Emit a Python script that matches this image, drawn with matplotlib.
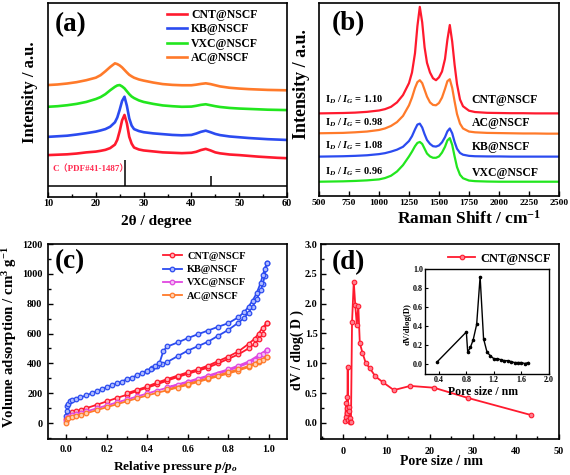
import matplotlib
matplotlib.use("Agg")
import matplotlib.pyplot as plt
import numpy as np
from matplotlib.ticker import MultipleLocator

plt.rcParams['font.family'] = ['Liberation Serif', 'Noto Sans CJK SC']
plt.rcParams['font.weight'] = 'bold'
plt.rcParams['axes.labelweight'] = 'bold'
plt.rcParams['mathtext.fontset'] = 'custom'
plt.rcParams['mathtext.rm'] = 'Liberation Serif:bold'
plt.rcParams['mathtext.it'] = 'Liberation Serif:italic:bold'
plt.rcParams['mathtext.bf'] = 'Liberation Serif:bold'
plt.rcParams['axes.linewidth'] = 1.2

# ---------------- (a) XRD ----------------
xrd_x = [10, 12, 14, 16, 18, 20, 21, 22, 23, 24, 24.5, 25, 25.5, 26, 26.5, 27, 27.5, 28, 29, 30,
         32, 34, 36, 38, 40, 41, 42, 43, 44, 45, 46, 48, 50, 52, 54, 56, 58, 60]
xrd_cnt = [21.6, 21.8, 22.0, 22.4, 23.0, 23.4, 23.8, 24.3, 25.2, 27.0, 29.5, 34.0, 39.5, 42.3, 38.0, 31.0,
           27.5, 25.5, 24.5, 24.0, 23.5, 23.0, 22.8, 22.6, 22.8, 23.3, 24.2, 24.8, 24.0, 23.0, 22.5, 21.9,
           21.6, 21.2, 20.8, 20.5, 20.2, 20.0]
xrd_kb = [31.0, 31.3, 31.6, 32.2, 32.9, 33.7, 34.3, 35.0, 36.2, 38.5, 41.0, 45.0, 49.5, 51.7, 47.0, 40.5,
          36.8, 35.0, 34.0, 33.4, 32.8, 32.4, 32.0, 31.8, 32.0, 32.7, 33.6, 34.2, 33.4, 32.5, 31.9, 31.2,
          30.8, 30.4, 30.1, 29.8, 29.6, 29.4]
xrd_vxc = [46.5, 46.8, 47.3, 48.0, 49.0, 50.5, 51.5, 53.0, 55.0, 56.8, 57.5, 57.7, 57.0, 56.0, 54.5, 53.0,
           51.8, 51.0, 49.8, 49.0, 48.0, 47.2, 46.8, 46.5, 46.6, 47.0, 47.5, 47.8, 47.3, 46.8, 46.4, 45.9,
           45.6, 45.4, 45.2, 45.0, 44.9, 44.8]
xrd_ac = [57.7, 58.0, 58.5, 59.2, 60.2, 61.5, 62.8, 64.8, 67.0, 68.9, 68.5, 67.8, 66.8, 65.5, 64.2, 63.0,
          62.2, 61.5, 60.6, 60.0, 59.0, 58.2, 57.8, 57.6, 57.6, 57.9, 58.3, 58.6, 58.2, 57.6, 57.0, 56.3,
          55.9, 55.6, 55.4, 55.2, 55.1, 55.0]
pdf_pos = [26.2, 44.2]
pdf_height = [13.4, 5.1]
xrd_labels = ['CNT@NSCF', 'KB@NSCF', 'VXC@NSCF', 'AC@NSCF']

# ---------------- (b) Raman ----------------
ram_x = [500, 600, 700, 800, 900, 1000, 1050, 1100, 1150, 1200, 1250, 1275, 1300, 1320, 1340, 1360, 1380,
         1400, 1425, 1450, 1475, 1500, 1525, 1550, 1570, 1590, 1610, 1630, 1650, 1675, 1700, 1750, 1800,
         1900, 2000, 2100, 2200, 2300, 2400, 2500]
ram_cnt = [42.8, 42.9, 43.0, 43.2, 43.6, 44.3, 45.0, 46.2, 48.5, 52.3, 58.5, 64, 74, 88, 98, 90, 77, 69, 64,
           61, 60, 61.5, 64.5, 71, 81, 88.6, 80, 68, 58, 50, 46.5, 44.2, 43.5, 43.1, 43.0, 42.9, 42.9, 42.8,
           42.8, 42.8]
ram_ac = [32.5, 32.6, 32.7, 33.0, 33.4, 34.2, 35.0, 36.3, 38.3, 41.5, 47, 51, 56, 59, 60, 58.5, 55, 51.5,
          48.5, 47.2, 47, 48.2, 51, 55.5, 59.5, 60.5, 56, 49, 42.5, 37.5, 35, 33.4, 33, 32.7, 32.6, 32.5,
          32.4, 32.4, 32.3, 32.3]
ram_kb = [20.4, 20.5, 20.6, 20.8, 21.1, 21.7, 22.2, 23.0, 24.0, 25.5, 28.5, 31, 34.5, 37, 37.5, 35.5, 32,
          29, 27, 25.8, 25.6, 26.2, 27.8, 30.5, 33.5, 35, 32.5, 28, 24.5, 22.3, 21.4, 20.8, 20.6, 20.5,
          20.5, 20.4, 20.4, 20.4, 20.4, 20.4]
ram_vxc = [7.4, 7.5, 7.6, 7.8, 8.1, 8.6, 9.3, 10.5, 12.7, 16, 20.5, 23, 25.8, 27.5, 28, 27, 24.5, 22, 20.5,
           19.8, 19.8, 20.5, 22.5, 25.5, 28.8, 30, 26.5, 20.5, 15, 11, 9.2, 8, 7.7, 7.5, 7.4, 7.4, 7.4, 7.4,
           7.4, 7.4]
ram_names = ['CNT@NSCF', 'AC@NSCF', 'KB@NSCF', 'VXC@NSCF']
ram_ratio = ['1.10', '0.98', '1.08', '0.96']

# ---------------- (c) N2 isotherms ----------------
kb_p_ads = [0.0, 0.002, 0.005, 0.01, 0.02, 0.03, 0.05, 0.07, 0.1, 0.125, 0.15, 0.175, 0.2, 0.225, 0.25, 0.275,
            0.3, 0.325, 0.35, 0.375, 0.4, 0.425, 0.45, 0.475, 0.5, 0.55, 0.6, 0.65, 0.7, 0.75, 0.8, 0.85,
            0.88, 0.9, 0.92, 0.94, 0.96, 0.97, 0.98, 0.99]
kb_v_ads = [45, 80, 115, 130, 145, 153, 163, 172, 185, 200, 212, 225, 240, 252, 265, 278, 295, 305, 320, 335,
            350, 368, 385, 395, 410, 448, 485, 515, 545, 585, 624, 673, 705, 740, 780, 830, 890, 930, 985, 1070]
kb_p_des = [0.99, 0.98, 0.97, 0.96, 0.94, 0.92, 0.9, 0.88, 0.85, 0.8, 0.75, 0.7, 0.65, 0.6, 0.55, 0.5, 0.48,
            0.46, 0.44, 0.42, 0.4]
kb_v_des = [1070, 1035, 990, 940, 870, 820, 780, 745, 709, 669, 645, 620, 595, 569, 540, 513, 485, 400, 380,
            365, 350]

p_ads = [0.0, 0.005, 0.01, 0.03, 0.05, 0.075, 0.1, 0.15, 0.2, 0.25, 0.3, 0.35, 0.4, 0.45, 0.5, 0.55, 0.6,
         0.65, 0.7, 0.75, 0.8, 0.85, 0.9, 0.93, 0.95, 0.97, 0.99]
cnt_v_ads = [30, 55, 62, 72, 80, 90, 100, 122, 145, 168, 190, 215, 237, 260, 285, 308, 330, 350, 372, 400,
             430, 460, 500, 530, 560, 600, 670]
cnt_p_des = [0.99, 0.97, 0.95, 0.93, 0.9, 0.85, 0.8, 0.75, 0.7, 0.65, 0.6, 0.55, 0.5, 0.45, 0.4, 0.35, 0.3]
cnt_v_des = [670, 640, 600, 565, 530, 480, 445, 415, 385, 360, 340, 318, 295, 272, 245, 222, 200]

vxc_v_ads = [15, 35, 42, 52, 60, 68, 78, 98, 118, 138, 158, 178, 198, 218, 237, 255, 272, 292, 312, 332, 352,
             375, 402, 425, 442, 462, 490]
vxc_p_des = [0.99, 0.95, 0.9, 0.85, 0.8, 0.7, 0.6, 0.5]
vxc_v_des = [490, 455, 412, 385, 360, 318, 278, 240]

ac_v_ads = [0, 25, 32, 40, 47, 56, 66, 86, 106, 126, 146, 166, 185, 203, 220, 238, 256, 275, 295, 313, 332,
            352, 375, 393, 408, 425, 445]
ac_p_des = [0.99, 0.95, 0.9, 0.85, 0.8, 0.7, 0.6, 0.5]
ac_v_des = [445, 415, 382, 360, 340, 300, 262, 225]

# ---------------- (d) pore size distribution ----------------
psd_x = [0.4, 0.6, 0.7, 0.8, 0.85, 0.9, 1.0, 1.1, 1.2, 1.3, 1.45, 1.6, 1.75, 2.0, 2.4, 2.75, 3.1, 3.45, 3.8,
         4.4, 5.2, 6.1, 7.4, 9.2, 11.7, 15.5, 21.0, 28.8, 43.6]
psd_y = [0.03, 0.33, 0.10, 0.43, 0.25, 0.17, 0.93, 0.05, 0.27, 0.20, 0.08, 0.01, 0.02, 1.69, 2.37, 1.97, 1.65,
         1.96, 1.34, 1.18, 1.0, 0.92, 0.78, 0.68, 0.55, 0.62, 0.59, 0.42, 0.13]
ins_x = [0.38, 0.80, 0.82, 0.86, 0.90, 0.95, 1.00, 1.05, 1.10, 1.15, 1.20, 1.25, 1.30, 1.35, 1.40, 1.45, 1.50,
         1.55, 1.60, 1.65, 1.70]
ins_y = [0.03, 0.34, 0.13, 0.18, 0.26, 0.42, 0.92, 0.27, 0.13, 0.09, 0.06, 0.06, 0.05, 0.04, 0.04, 0.03, 0.02,
         0.02, 0.02, 0.01, 0.02]

W, H = 570, 475
fig = plt.figure(figsize=(W / 100, H / 100), dpi=100)


def rect(l, t, r, b):
    return [l / W, 1 - b / H, (r - l) / W, (b - t) / H]


def ftext(x, y, s, **kw):
    """place text at figure pixel position (x from left, y from top)"""
    kw.setdefault('ha', 'center')
    kw.setdefault('va', 'center')
    kw.setdefault('fontweight', 'bold')
    return fig.text(x / W, 1 - y / H, s, **kw)


RED = '#ff1a2e'
BLUE = '#2b4bf0'
GREEN = '#22e61e'
ORANGE = '#ff7a2a'
MAGENTA = '#e048e0'

TICK_FS = 7.3


def style(ax, pad=2.5):
    ax.tick_params(direction='in', which='both', labelsize=TICK_FS, width=1.0, pad=pad)
    ax.tick_params(which='major', length=3.5)
    ax.tick_params(which='minor', length=2)
    for lab in ax.get_xticklabels() + ax.get_yticklabels():
        lab.set_fontweight('bold')


# ---- (a)
axa = fig.add_axes(rect(48, 3, 287, 197))
cols_a = [RED, BLUE, GREEN, ORANGE]
for ys, c, lab in zip([xrd_cnt, xrd_kb, xrd_vxc, xrd_ac], cols_a, xrd_labels):
    axa.plot(xrd_x, ys, color=c, lw=1.9, label=lab)
axa.axhline(5.7, color='black', lw=1.1)
axa.vlines(pdf_pos, 5.7, [5.7 + h for h in pdf_height], color='black', lw=1.1)
axa.text(11, 14.5, 'C（PDF#41-1487）', color='#ff2a50', fontsize=6.5, fontweight='bold', va='center')
axa.set_xlim(10, 60)
axa.set_ylim(0, 100)
axa.set_yticks([])
axa.xaxis.set_major_locator(MultipleLocator(10))
axa.xaxis.set_minor_locator(MultipleLocator(5))
axa.legend(loc='upper left', bbox_to_anchor=(0.498, 0.969), frameon=False, fontsize=8.5,
           handlelength=1.7, handletextpad=0.35, labelspacing=0.21, borderaxespad=0, borderpad=0)
style(axa, pad=1.5)
ftext(156, 221, '2θ / degree', fontsize=11)
ftext(30, 92, 'Intensity / a.u.', fontsize=12, rotation=90)
ftext(55, 25, '(a)', fontsize=19.5, ha='left')

# ---- (b)
axb = fig.add_axes(rect(319, 3, 559, 196))
cols_b = [RED, ORANGE, BLUE, GREEN]
for ys, c in zip([ram_cnt, ram_ac, ram_kb, ram_vxc], cols_b):
    axb.plot(ram_x, ys, color=c, lw=1.6)
name_px = [100, 123, 147, 173]
ratio_px = [100, 123, 146, 172]
for nm, yy, yr, rt in zip(ram_names, name_px, ratio_px, ram_ratio):
    ftext(471.7, yy, nm, fontsize=8.5, ha='left')
    ftext(325, yr, r'I$_{D}$ / $I_{G}$ = ' + rt, fontsize=7.5, ha='left')
axb.set_xlim(500, 2500)
axb.set_ylim(0, 100)
axb.set_yticks([])
axb.xaxis.set_major_locator(MultipleLocator(250))
style(axb, pad=2)
for lab in axb.get_xticklabels():
    lab.set_fontsize(6.8)
ftext(469, 219, 'Raman Shift / cm$^{-1}$', fontsize=12.5)
ftext(302, 84, 'Intensity / a.u.', fontsize=13, rotation=90)
ftext(331.7, 23.5, '(b)', fontsize=19.5, ha='left')

# ---- (c)
axc = fig.add_axes(rect(48, 244, 287, 439))


def iso(ax, pa, va, pd, vd, c, fc, lab):
    ax.plot(list(pa) + list(pd), list(va) + list(vd), color=c, lw=1.3, marker='o', ms=3.3,
            mfc=fc, mec=c, mew=0.9, label=lab)


iso(axc, p_ads, cnt_v_ads, cnt_p_des, cnt_v_des, RED, '#ffb0b8', 'CNT@NSCF')
iso(axc, kb_p_ads, kb_v_ads, kb_p_des, kb_v_des, BLUE, '#b0bcff', 'KB@NSCF')
iso(axc, p_ads, vxc_v_ads, vxc_p_des, vxc_v_des, MAGENTA, '#f5c0f5', 'VXC@NSCF')
iso(axc, p_ads, ac_v_ads, ac_p_des, ac_v_des, ORANGE, '#ffd0b0', 'AC@NSCF')
axc.set_xlim(-0.09, 1.09)
axc.set_ylim(-107, 1200)
axc.xaxis.set_major_locator(MultipleLocator(0.2))
axc.xaxis.set_minor_locator(MultipleLocator(0.1))
axc.yaxis.set_major_locator(MultipleLocator(200))
axc.yaxis.set_minor_locator(MultipleLocator(100))
axc.legend(loc='upper left', bbox_to_anchor=(0.481, 0.96), frameon=False, fontsize=7.5,
           handlelength=1.83, handletextpad=0.5, labelspacing=0.37, borderaxespad=0, borderpad=0)
style(axc, pad=4)
ftext(175, 466.7, r'Relative pressure $p/p_{o}$', fontsize=9.5)
ftext(10, 337, r'Volume adsorption / cm$^{3}$ g$^{-1}$', fontsize=10.7, rotation=90)
ftext(55, 261.7, '(c)', fontsize=19.5, ha='left')

# ---- (d)
axd = fig.add_axes(rect(321, 244, 559, 439))
axd.plot(psd_x, psd_y, color=RED, lw=1.3, marker='o', ms=3.3, mfc='#ff8090', mec=RED, mew=0.8,
         label='CNT@NSCF')
axd.set_xlim(-5.2, 50)
axd.set_ylim(-0.27, 3.0)
axd.xaxis.set_major_locator(MultipleLocator(10))
axd.xaxis.set_minor_locator(MultipleLocator(5))
axd.yaxis.set_major_locator(MultipleLocator(0.5))
axd.yaxis.set_minor_locator(MultipleLocator(0.25))
axd.legend(loc='upper left', bbox_to_anchor=(0.534, 0.955), frameon=False, fontsize=9,
           handlelength=2.16, handletextpad=0.4, borderaxespad=0, borderpad=0)
style(axd, pad=2.5)
for lab in axd.get_xticklabels():
    lab.set_y(-0.012)
axd.tick_params(axis='x', pad=4)
ftext(441.5, 461.7, 'Pore size / nm', fontsize=10)
ftext(297.5, 350, 'dV / dlog( D )', fontsize=10, rotation=90)
ftext(331.7, 263, '(d)', fontsize=19.5, ha='left')

axi = fig.add_axes(rect(425, 269, 549, 374))
axi.plot(ins_x, ins_y, color='black', lw=1.0, marker='o', ms=1.6)
axi.set_xlim(0.2, 2.0)
axi.set_ylim(-0.1, 1.0)
axi.xaxis.set_major_locator(MultipleLocator(0.4))
axi.yaxis.set_major_locator(MultipleLocator(0.2))
axi.tick_params(direction='in', labelsize=5.8, length=2.5, width=0.8, pad=1.5)
for sp in axi.spines.values():
    sp.set_linewidth(1.0)
for lab in axi.get_xticklabels() + axi.get_yticklabels():
    lab.set_fontweight('bold')
ftext(483, 391.7, 'Pore size / nm', fontsize=8.5)
ftext(408, 324.5, 'dV/dlog(D)', fontsize=6.3, rotation=90)

fig.savefig('out.png', dpi=100)
